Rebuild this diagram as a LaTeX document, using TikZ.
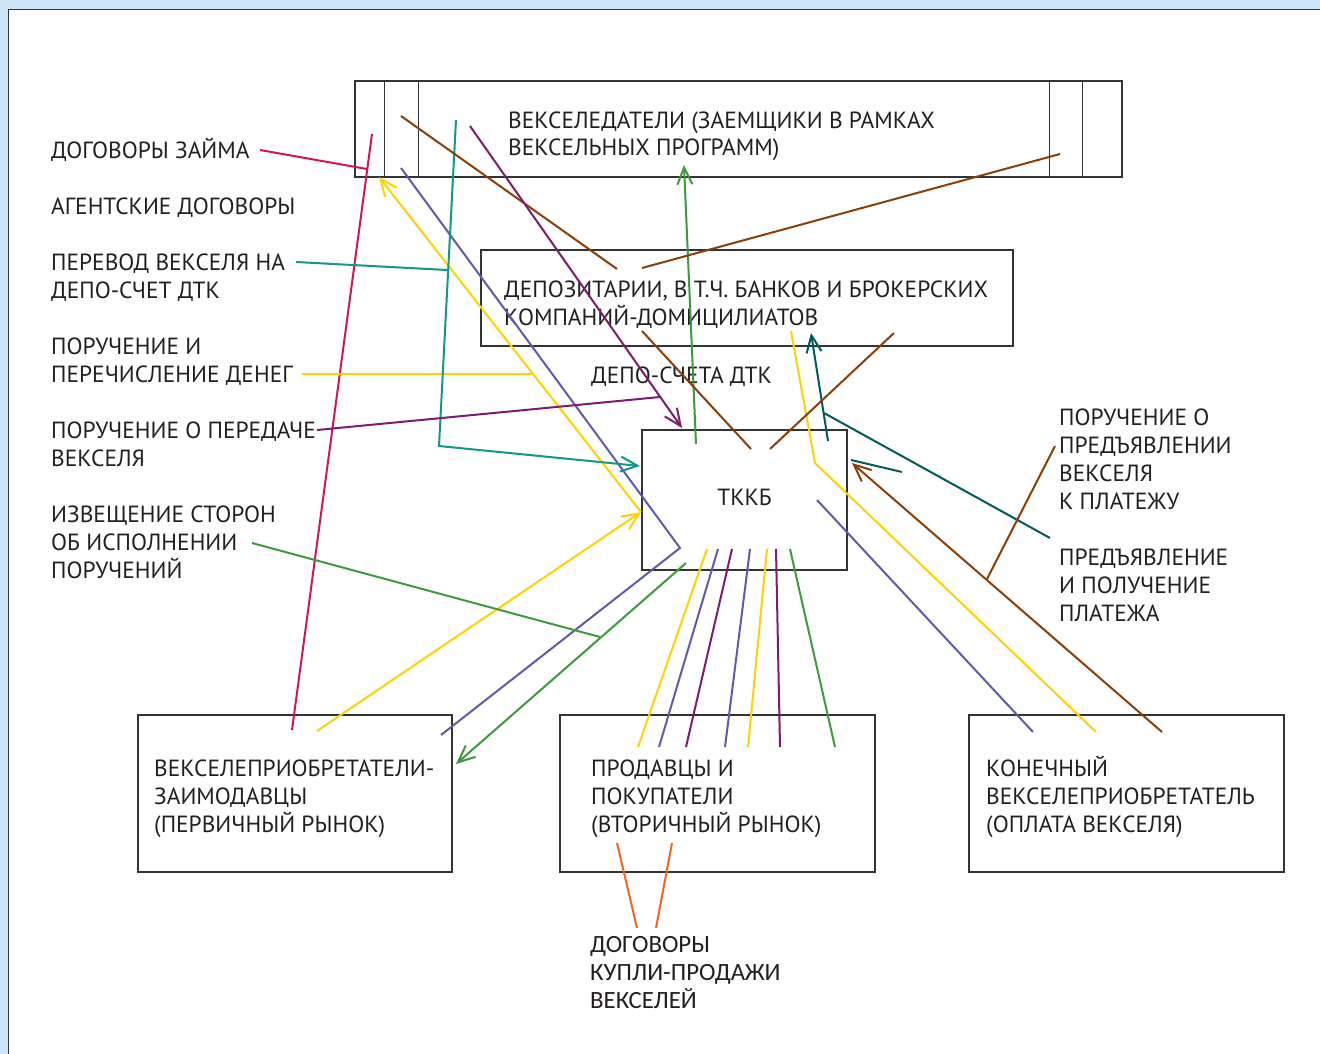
\documentclass[tikz,border=0pt]{standalone}
\usepackage{fontspec}
\setmainfont{PT Sans}
\newfontfamily\calfont{Carlito}
\usetikzlibrary{arrows.meta}
\definecolor{frameblue}{HTML}{CFE4F7}
\definecolor{boxgray}{HTML}{333333}
\definecolor{txtgray}{HTML}{231F20}
\definecolor{cpink}{HTML}{D4145A}
\definecolor{cyellow}{HTML}{FFD200}
\definecolor{cslate}{HTML}{5E5BAE}
\definecolor{cgreen}{HTML}{3D9A3D}
\definecolor{cteal}{HTML}{12978A}
\definecolor{cdteal}{HTML}{005B5B}
\definecolor{cbrown}{HTML}{8B3E06}
\definecolor{cpurple}{HTML}{7D1C6E}
\definecolor{corange}{HTML}{F26522}

\begin{document}
\begin{tikzpicture}[x=1pt,y=-1pt,
  box/.style={draw=boxgray,line width=1.3pt,inner sep=0pt},
  txt/.style={anchor=base west,align=left,inner sep=0pt,text=txtgray,
    font=\fontsize{23.4}{28}\selectfont},
  ln/.style={line width=2pt},
  arr/.style={ln,-{Straight Barb[length=17pt,width=15pt]}}]

  % frame
  \useasboundingbox (0,0) rectangle (1320,1054);
  \fill[frameblue] (0,0) rectangle (1320,1054);
  \fill[white] (8.5,9.5) rectangle (1320,1054);
  \draw[boxgray,line width=1.5pt] (8.5,1054) -- (8.5,9.5) -- (1320,9.5);

  % boxes
  \node[box,minimum width=767pt,minimum height=96pt] (veksel) at (738.5,129) {};
  \node[box,minimum width=532pt,minimum height=96pt] (depozit) at (747,298) {};
  \node[box,minimum width=205pt,minimum height=140pt] (tkkb) at (744.5,500) {};
  \node[box,minimum width=314pt,minimum height=157pt] (pervich) at (295,793.5) {};
  \node[box,minimum width=315pt,minimum height=157pt] (vtorich) at (717.5,793.5) {};
  \node[box,minimum width=315pt,minimum height=157pt] (konech) at (1126.5,793.5) {};
  \foreach \x in {30,64,695,728}
    \draw[boxgray,line width=1.3pt] ([xshift=\x pt]veksel.north west) -- ([xshift=\x pt]veksel.south west);

  % texts (anchored at the baseline of the last line)
  \node[txt] (tVeksel) at (508,156) {ВЕКСЕЛЕДАТЕЛИ (ЗАЕМЩИКИ В РАМКАХ\\ВЕКСЕЛЬНЫХ ПРОГРАММ)};
  \node[txt] (tDepozit) at (504,325) {ДЕПОЗИТАРИИ, В Т.Ч. БАНКОВ И БРОКЕРСКИХ\\КОМПАНИЙ-ДОМИЦИЛИАТОВ};
  \node[txt] (tDepo) at (591,383) {ДЕПО-СЧЕТА ДТК};
  \node[txt,anchor=base] (tTkkb) at (744.5,505) {ТККБ};
  \node[txt] (tPervich) at (154,832) {ВЕКСЕЛЕПРИОБРЕТАТЕЛИ-\\ЗАИМОДАВЦЫ\\(ПЕРВИЧНЫЙ РЫНОК)};
  \node[txt] (tVtorich) at (591,832) {ПРОДАВЦЫ И\\ПОКУПАТЕЛИ\\(ВТОРИЧНЫЙ РЫНОК)};
  \node[txt] (tKonech) at (986,832) {КОНЕЧНЫЙ\\ВЕКСЕЛЕПРИОБРЕТАТЕЛЬ\\(ОПЛАТА ВЕКСЕЛЯ)};
  \node[txt] (lZaim) at (51,158) {ДОГОВОРЫ ЗАЙМА};
  \node[txt] (lAgent) at (51,214) {АГЕНТСКИЕ ДОГОВОРЫ};
  \node[txt] (lPerevod) at (51,298) {ПЕРЕВОД ВЕКСЕЛЯ НА\\ДЕПО-СЧЕТ ДТК};
  \node[txt] (lDengi) at (51,382) {ПОРУЧЕНИЕ И\\ПЕРЕЧИСЛЕНИЕ ДЕНЕГ};
  \node[txt] (lPeredacha) at (51,466) {ПОРУЧЕНИЕ О ПЕРЕДАЧЕ\\ВЕКСЕЛЯ};
  \node[txt] (lIzvesh) at (51,578) {ИЗВЕЩЕНИЕ СТОРОН\\ОБ ИСПОЛНЕНИИ\\ПОРУЧЕНИЙ};
  \node[txt] (lPred) at (1059,509) {ПОРУЧЕНИЕ О\\ПРЕДЪЯВЛЕНИИ\\ВЕКСЕЛЯ\\К ПЛАТЕЖУ};
  \node[txt] (lPlatezh) at (1059,621) {ПРЕДЪЯВЛЕНИЕ\\И ПОЛУЧЕНИЕ\\ПЛАТЕЖА};
  \node[txt,font=\calfont\fontsize{24.8}{28}\selectfont] (lKupla) at (590,1008) {ДОГОВОРЫ\\КУПЛИ-ПРОДАЖИ\\ВЕКСЕЛЕЙ};

  % connector ends
  \foreach \n/\x/\y in {p1/372/134, p2/292/730, p3/260/150, p4/367/169,
      y1/317/731, y2/641/512, y3/379/177, y4/302/374, y5/533/374,
      y6/791/331, y7/815/463, y8/1096/732, y9/707/549, y10/638/747, y11/767/549, y12/748/747,
      b1/401/168, b2/680/548, b3/441/735, b4/817/500, b5/1033/732,
      b6/718/549, b7/659/747, b8/750/549, b9/725/747,
      g1/696/444, g2/684/165, g3/686/563, g4/456/764, g5/252/543, g6/600/637, g7/790/549, g8/835/747,
      t1/296/262, t2/447/270, t3/456/120, t4/439/446, t5/640/466,
      d1/828/441, d2/811/333, d3/824/413, d4/1050/538, d5/851/460, d6/902/472,
      r1/401/116, r2/617/269, r3/642/268, r4/1060/154, r5/642/331, r6/751/449,
      r7/894/333, r8/770/449, r9/1162/732, r10/852/463, r11/1055/446, r12/987/579,
      m1/470/126, m2/682/428, m3/317/430, m4/660/397, m5/732/549, m6/686/747, m7/776/549, m8/780/747,
      o1/617/843, o2/637/928, o3/672/843, o4/656/928}
    \coordinate (\n) at (\x,\y);

  % connectors
  \draw[ln,cpink] (p1) -- (p2) (p3) -- (p4);
  \draw[arr,cyellow] (y1) -- (y2);
  \draw[arr,cyellow] (y2) -- (y3);
  \draw[ln,cyellow] (y4) -- (y5) (y6) -- (y7) -- (y8) (y9) -- (y10) (y11) -- (y12);
  \draw[ln,cslate] (b1) -- (b2) -- (b3) (b4) -- (b5) (b6) -- (b7) (b8) -- (b9);
  \draw[arr,cgreen] (g1) -- (g2);
  \draw[arr,cgreen] (g3) -- (g4);
  \draw[ln,cgreen] (g5) -- (g6) (g7) -- (g8);
  \draw[ln,cteal] (t1) -- (t2);
  \draw[arr,cteal] (t3) -- (t4) -- (t5);
  \draw[arr,cdteal] (d1) -- (d2);
  \draw[ln,cdteal] (d3) -- (d4) (d5) -- (d6);
  \draw[ln,cbrown] (r1) -- (r2) (r3) -- (r4) (r5) -- (r6) (r7) -- (r8) (r11) -- (r12);
  \draw[arr,cbrown] (r9) -- (r10);
  \draw[arr,cpurple] (m1) -- (m2);
  \draw[ln,cpurple] (m3) -- (m4) (m5) -- (m6) (m7) -- (m8);
  \draw[ln,corange] (o1) -- (o2) (o3) -- (o4);
\end{tikzpicture}
\end{document}
